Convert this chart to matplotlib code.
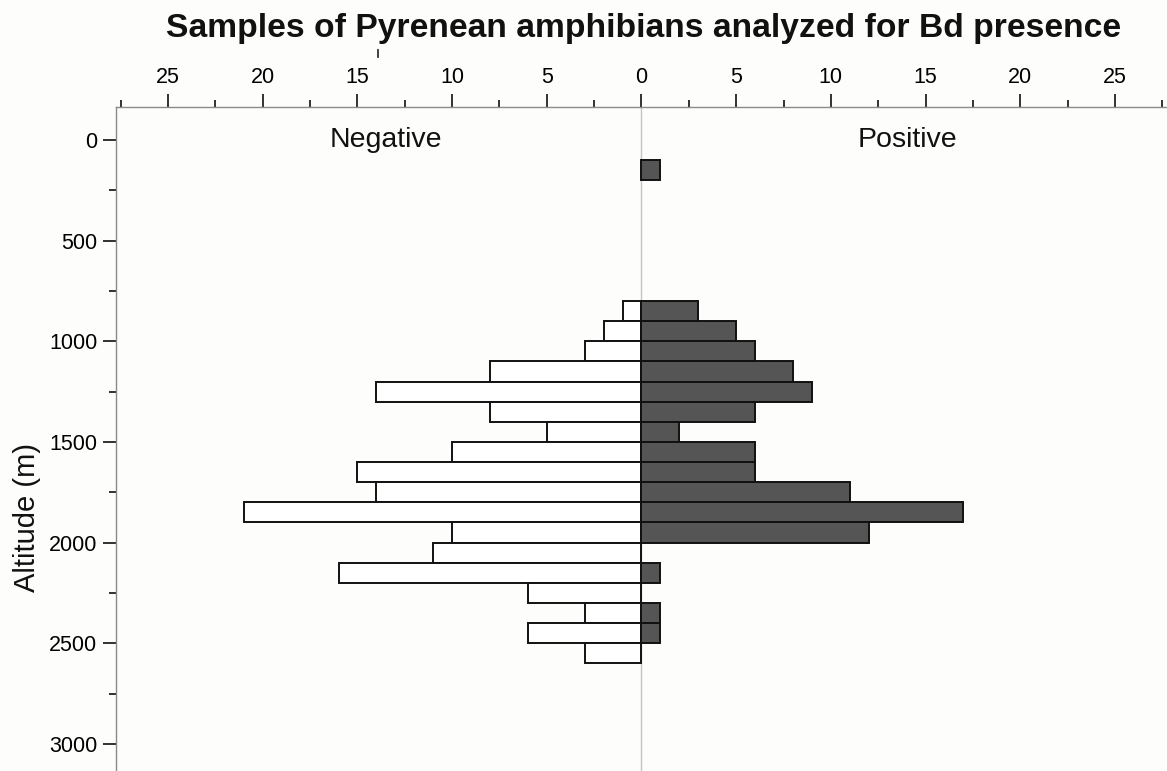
import matplotlib.pyplot as plt
from matplotlib.lines import Line2D
from matplotlib.ticker import FixedLocator, FuncFormatter

plt.rcParams['font.family'] = ['Liberation Sans', 'DejaVu Sans']

# altitude bins (lower edge, m) and sample counts per bin
alt_bins = [100, 800, 900, 1000, 1100, 1200, 1300, 1400, 1500, 1600,
            1700, 1800, 1900, 2000, 2100, 2200, 2300, 2400, 2500]
negative = [0, 1, 2, 3, 8, 14, 8, 5, 10, 15, 14, 21, 10, 11, 16, 6, 3, 6, 3]
positive = [1, 3, 5, 6, 8, 9, 6, 2, 6, 6, 11, 17, 12, 0, 1, 0, 1, 1, 0]
bin_width = 100

x_major = [-25, -20, -15, -10, -5, 0, 5, 10, 15, 20, 25]
x_minor = [-27.5, -22.5, -17.5, -12.5, -7.5, -2.5, 2.5, 7.5, 12.5, 17.5, 22.5, 27.5]
y_major = [0, 500, 1000, 1500, 2000, 2500, 3000]
y_minor = [250, 750, 1250, 1750, 2250, 2750]

bg = '#fdfdfb'
fig = plt.figure(figsize=(11.67, 7.71), dpi=100, facecolor=bg)
ax = fig.add_axes([0.0994, 0.0, 0.9006, 0.8612], facecolor=bg)

# zero line behind bars
ax.axvline(0, color='#c4c4c4', lw=1.0, zorder=0)

neg_y = [a for a, v in zip(alt_bins, negative) if v > 0]
neg_w = [-v for v in negative if v > 0]
pos_y = [a for a, v in zip(alt_bins, positive) if v > 0]
pos_w = [v for v in positive if v > 0]

ax.barh(neg_y, neg_w, height=bin_width, align='edge', color='white',
        edgecolor='#111111', linewidth=1.4, zorder=2)
ax.barh(pos_y, pos_w, height=bin_width, align='edge', color='#555555',
        edgecolor='#111111', linewidth=1.4, zorder=2)

ax.set_xlim(-27.75, 27.75)
ax.set_ylim(3135, -164)

ax.xaxis.tick_top()
ax.xaxis.set_major_locator(FixedLocator(x_major))
ax.xaxis.set_minor_locator(FixedLocator(x_minor))
ax.xaxis.set_major_formatter(FuncFormatter(lambda v, p: f'{abs(int(v))}'))
ax.yaxis.set_major_locator(FixedLocator(y_major))
ax.yaxis.set_minor_locator(FixedLocator(y_minor))

ax.tick_params(axis='x', which='major', direction='out', length=9.4, width=1.3,
               color='#222222', labelsize=15.5, pad=4.3)
ax.tick_params(axis='x', which='minor', direction='out', length=5, width=1.3,
               color='#222222')
ax.tick_params(axis='y', which='major', direction='out', length=9.4, width=1.3,
               color='#222222', labelsize=15.5, pad=4)
ax.tick_params(axis='y', which='minor', direction='out', length=5, width=1.3,
               color='#222222')

for side in ('right', 'bottom'):
    ax.spines[side].set_visible(False)
for side in ('top', 'left'):
    ax.spines[side].set_color('#8a8a8a')
    ax.spines[side].set_linewidth(1.0)

ax.text(-13.5, 0, 'Negative', ha='center', va='center', fontsize=20.5, color='#111111')
ax.text(14.05, 0, 'Positive', ha='center', va='center', fontsize=20.5, color='#111111')

fig.text(27 / 1167, 1 - 518 / 771, 'Altitude (m)', rotation=90, ha='center',
         va='center', fontsize=21, color='#111111')
fig.text(644 / 1167, 1 - 29 / 771, 'Samples of Pyrenean amphibians analyzed for Bd presence',
         ha='center', va='center', fontsize=24.2, fontweight='bold', color='#111111')

# small stray tick below the title
fig.add_artist(Line2D([378 / 1167, 378 / 1167], [1 - 50 / 771, 1 - 57 / 771],
                      color='#333333', lw=1.3, transform=fig.transFigure))

fig.savefig('out.png', dpi=100, facecolor=bg)
